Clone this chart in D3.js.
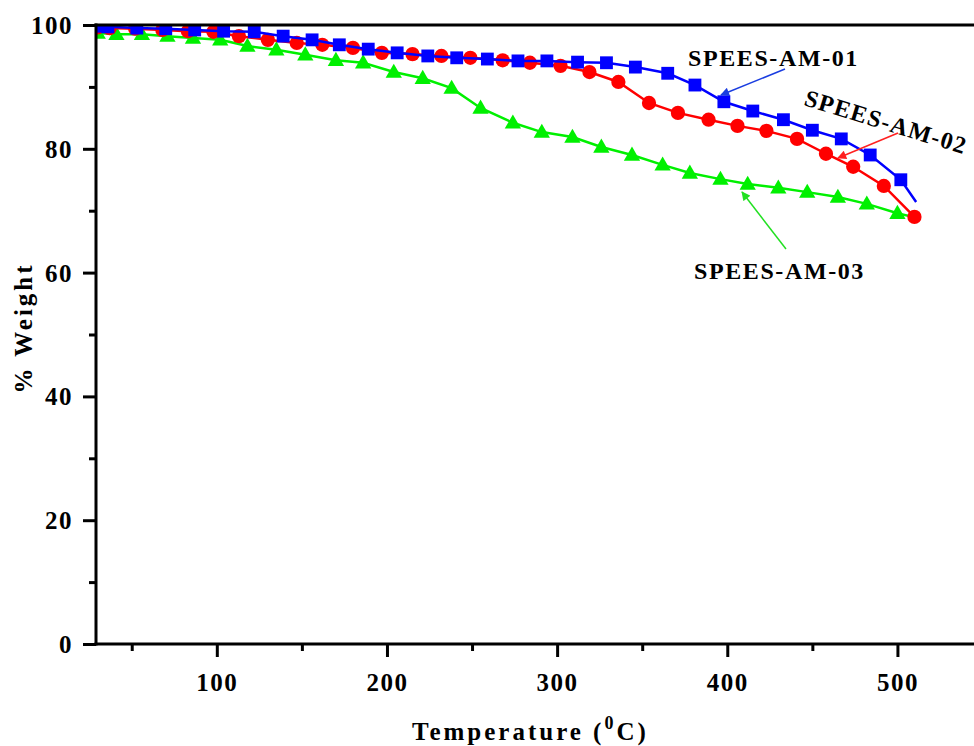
<!DOCTYPE html>
<html>
<head>
<meta charset="utf-8">
<script src="https://cdn.jsdelivr.net/npm/d3@7/dist/d3.min.js"></script>
<style>
  html, body { margin: 0; padding: 0; background: #fff; }
  svg { display: block; }
  text { font-family: "Liberation Serif", "Times New Roman", serif; font-weight: bold; fill: #000; }
</style>
</head>
<body>
<svg id="chart" width="974" height="746"></svg>
<script>
// ---- Data ----
const seriesNames = ["SPEES-AM-01", "SPEES-AM-02", "SPEES-AM-03"];

const am01Temp   = [30, 36, 53, 70, 87, 104, 122, 139, 156, 172, 189, 206, 224, 241, 259, 277, 294, 312, 329, 346, 365, 381, 398, 415, 433, 450, 467, 484, 502];
const am01Weight = [99.8, 99.7, 99.5, 99.4, 99.2, 99.0, 98.9, 98.2, 97.6, 96.8, 96.1, 95.5, 95.0, 94.7, 94.5, 94.2, 94.2, 94.0, 93.9, 93.2, 92.2, 90.3, 87.6, 86.1, 84.7, 83.0, 81.6, 79.0, 75.0];
const am01Tail   = [511, 71.4];

const am02Temp   = [30, 37, 52, 68, 83, 98, 113, 130, 147, 162, 180, 197, 215, 232, 249, 268, 284, 302, 319, 336, 354, 371, 389, 406, 423, 441, 458, 474, 492, 510];
const am02Weight = [99.6, 99.5, 99.4, 99.2, 99.0, 98.9, 98.2, 97.6, 97.1, 96.8, 96.3, 95.5, 95.3, 95.0, 94.7, 94.3, 93.9, 93.4, 92.4, 90.8, 87.4, 85.8, 84.7, 83.7, 82.9, 81.6, 79.2, 77.1, 74.0, 69.0];

const am03Temp   = [30, 41, 56, 71, 86, 102, 118, 135, 152, 170, 186, 204, 221, 238, 255, 274, 291, 309, 326, 344, 362, 378, 396, 412, 430, 447, 465, 482, 500];
const am03Weight = [98.7, 98.5, 98.5, 98.2, 97.9, 97.6, 96.6, 96.0, 95.2, 94.3, 93.9, 92.4, 91.4, 89.8, 86.6, 84.2, 82.7, 81.9, 80.3, 79.0, 77.4, 76.1, 75.1, 74.3, 73.7, 73.0, 72.2, 71.1, 69.6];
const am03Tail   = [509, 69.0];

const xTickValues = [100, 200, 300, 400, 500];
const xMinorTicks = [50, 150, 250, 350, 450];
const yTickValues = [0, 20, 40, 60, 80, 100];
const yMinorTicks = [10, 30, 50, 70, 90];

// ---- Layout ----
const svg = d3.select("#chart");
const L = 96, R = 974, T = 25, B = 644;
const x = d3.scaleLinear().domain([29, 545]).range([L, R]);
const y = d3.scaleLinear().domain([0, 100]).range([B, T]);

svg.append("defs").append("clipPath").attr("id", "plotclip")
  .append("rect").attr("x", L).attr("y", T).attr("width", R - L).attr("height", B - T);

// arrow markers
const defs = svg.select("defs");
[["arrBlue", "#1a3de0"], ["arrRed", "#ff2020"], ["arrGreen", "#22e022"]].forEach(([id, c]) => {
  defs.append("marker").attr("id", id).attr("viewBox", "0 0 10 10")
    .attr("refX", 9).attr("refY", 5).attr("markerWidth", 10).attr("markerHeight", 9)
    .attr("markerUnits", "userSpaceOnUse").attr("orient", "auto")
    .append("path").attr("d", "M0,0 L10,5 L0,10 z").attr("fill", c);
});

// ---- Series ----
const series = [
  { name: seriesNames[2], temp: am03Temp, w: am03Weight, tail: am03Tail, color: "#00f000", sym: d3.symbolTriangle, size: 115 },
  { name: seriesNames[1], temp: am02Temp, w: am02Weight, tail: null, color: "#ff0000", sym: d3.symbolCircle, size: 160 },
  { name: seriesNames[0], temp: am01Temp, w: am01Weight, tail: am01Tail, color: "#0000ff", sym: d3.symbolSquare, size: 165 }
];

const plot = svg.append("g").attr("clip-path", "url(#plotclip)");
const line = d3.line().x(d => x(d[0])).y(d => y(d[1]));

series.forEach(s => {
  const pts = s.temp.map((t, i) => [t, s.w[i]]);
  const linePts = s.tail ? pts.concat([s.tail]) : pts;
  const g = plot.append("g");
  g.append("path").attr("d", line(linePts)).attr("fill", "none")
    .attr("stroke", s.color).attr("stroke-width", 2.5);
  g.selectAll("path.m").data(pts).enter().append("path").attr("class", "m")
    .attr("d", d3.symbol().type(s.sym).size(s.size))
    .attr("transform", d => `translate(${x(d[0])},${y(d[1]) + (s.sym === d3.symbolTriangle ? 1 : 0)})`)
    .attr("fill", s.color);
});

// ---- Axes ----
const axisColor = "#000";
svg.append("line").attr("x1", L).attr("x2", L).attr("y1", T - 1.5).attr("y2", B + 1.5).attr("stroke", axisColor).attr("stroke-width", 3);
svg.append("line").attr("x1", L - 1.5).attr("x2", R).attr("y1", B).attr("y2", B).attr("stroke", axisColor).attr("stroke-width", 3);
svg.append("line").attr("x1", L - 1.5).attr("x2", R).attr("y1", T).attr("y2", T).attr("stroke", axisColor).attr("stroke-width", 3);

const xAxis = svg.append("g").attr("transform", `translate(0,${B})`)
  .call(d3.axisBottom(x).tickValues(xTickValues).tickSize(13).tickPadding(16).tickFormat(d3.format("d")));
const xMinor = svg.append("g").attr("transform", `translate(0,${B})`)
  .call(d3.axisBottom(x).tickValues(xMinorTicks).tickSize(7).tickFormat(""));
const yAxis = svg.append("g").attr("transform", `translate(${L},0)`)
  .call(d3.axisLeft(y).tickValues(yTickValues).tickSize(13).tickPadding(10).tickFormat(d3.format("d")));
const yMinor = svg.append("g").attr("transform", `translate(${L},0)`)
  .call(d3.axisLeft(y).tickValues(yMinorTicks).tickSize(7).tickFormat(""));

[xAxis, xMinor, yAxis, yMinor].forEach(a => {
  a.select(".domain").remove();
  a.selectAll(".tick line").attr("stroke", axisColor).attr("stroke-width", 3);
  a.selectAll(".tick text").style("font-family", '"Liberation Serif", serif')
    .style("font-weight", "bold").style("font-size", "25px").attr("fill", "#000")
    .style("letter-spacing", "1.5px");
});
xAxis.selectAll(".tick text").attr("dy", "0.71em");
yAxis.selectAll(".tick text").attr("dy", "0.34em");

// ---- Axis titles ----
const xt = svg.append("text").attr("x", 412).attr("y", 740)
  .style("font-size", "25px").style("letter-spacing", "3px");
xt.append("tspan").text("Temperature (");
xt.append("tspan").text("0").style("font-size", "18px").attr("dy", -11);
xt.append("tspan").text("C)").attr("dy", 11);

svg.append("text").attr("transform", "translate(32,328) rotate(-90)")
  .attr("text-anchor", "middle").style("font-size", "25px").style("letter-spacing", "3px")
  .text("% Weight");

// ---- Annotations ----
svg.append("text").attr("x", 688).attr("y", 66).style("font-size", "24px").style("letter-spacing", "1.6px")
  .text(seriesNames[0]);
svg.append("line").attr("x1", 785).attr("y1", 69).attr("x2", 721).attr("y2", 95)
  .attr("stroke", "#1a3de0").attr("stroke-width", 1.5).attr("marker-end", "url(#arrBlue)");

svg.append("text").attr("transform", "translate(803,105) rotate(17)")
  .style("font-size", "24px").style("letter-spacing", "1.4px").text(seriesNames[1]);
svg.append("line").attr("x1", 898).attr("y1", 133).attr("x2", 838).attr("y2", 158)
  .attr("stroke", "#ff2020").attr("stroke-width", 1.5).attr("marker-end", "url(#arrRed)");

svg.append("text").attr("x", 694).attr("y", 279).style("font-size", "24px").style("letter-spacing", "1.6px")
  .text(seriesNames[2]);
svg.append("line").attr("x1", 786).attr("y1", 249).attr("x2", 742).attr("y2", 192)
  .attr("stroke", "#22e022").attr("stroke-width", 1.5).attr("marker-end", "url(#arrGreen)");
</script>
</body>
</html>
